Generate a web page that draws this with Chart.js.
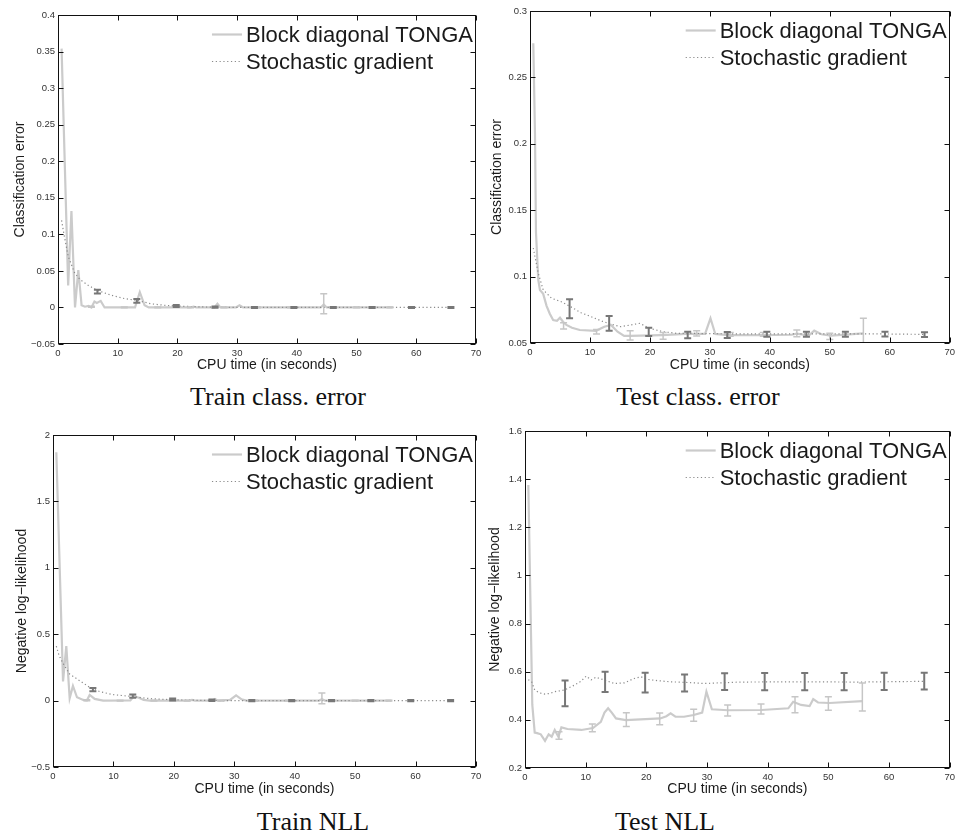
<!DOCTYPE html>
<html>
<head>
<meta charset="utf-8">
<script src="https://cdn.jsdelivr.net/npm/chart.js@4.4.0/dist/chart.umd.min.js"></script>
<style>
  body { margin: 0; background: #fff; }
  #page { position: relative; width: 959px; height: 833px; overflow: hidden; }
  canvas { position: absolute; }
  .cap { position: absolute; font-family: 'Liberation Serif', 'Times New Roman', serif; font-size: 26px; line-height: 1; color: #111; white-space: nowrap; transform: translate(-50%, -50%); }
</style>
</head>
<body>
<div id="page">
  <canvas id="trainErr" width="480" height="373" style="left:8px;top:5px"></canvas>
  <canvas id="testErr" width="474" height="377" style="left:485px;top:1px"></canvas>
  <canvas id="trainNll" width="478" height="377" style="left:10px;top:425px"></canvas>
  <canvas id="testNll" width="476" height="381" style="left:483px;top:421px"></canvas>
  <div class="cap" style="left:278px;top:397px">Train class. error</div>
  <div class="cap" style="left:698px;top:397px">Test class. error</div>
  <div class="cap" style="left:313px;top:822px">Train NLL</div>
  <div class="cap" style="left:665px;top:822px">Test NLL</div>
</div>
<script>
const seriesNames = ['Block diagonal TONGA', 'Stochastic gradient'];
const xTicks = [0, 10, 20, 30, 40, 50, 60, 70];
const tongaBarT = [5.6, 11.1, 16.7, 22.2, 27.8, 33.4, 38.9, 44.5, 50.0, 55.6];
const sgdBarT = [6.6, 13.2, 19.8, 26.3, 32.9, 39.5, 46.1, 52.6, 59.2, 65.8];

// Train class. error
const trainErrTicks = [-0.05, 0, 0.05, 0.1, 0.15, 0.2, 0.25, 0.3, 0.35, 0.4];
const trainErrTongaT = [0.6, 1.7, 2.25, 2.85, 3.4, 3.95, 4.5, 5.1, 5.6, 6.1, 6.5, 7.15, 7.8, 12.9, 13.7, 14.5, 15.2, 22.2, 22.7, 23.2, 26.2, 26.7, 27.2, 29.8, 30.4, 31.0, 44.0, 44.5, 45.0, 56.0];
const trainErrTongaY = [0.354, 0.03, 0.132, 0, 0.051, 0.003, 0.001, 0.002, 0, 0.008, 0.006, 0.009, 0, 0, 0.021, 0.003, 0, 0, 0.001, 0, 0, 0.005, 0, 0, 0.003, 0, 0, 0.004, 0, 0];
const trainErrSgdT = [0.6, 1.0, 1.7, 2.8, 3.7, 5.1, 6.7, 9.0, 11.2, 13.3, 15.6, 17.8, 19.8, 22.9, 26.3, 30.0, 65.8];
const trainErrSgdY = [0.119, 0.1, 0.07, 0.047, 0.038, 0.03, 0.023, 0.0165, 0.012, 0.0095, 0.005, 0.003, 0.002, 0.001, 0.0003, 0, 0];
const trainErrTongaBarY = [0.001, 0, 0, 0, 0, 0, 0, 0.005, 0, 0];
const trainErrTongaBarE = [0.0006, 0.0005, 0.0005, 0.0005, 0.0005, 0.0005, 0.0005, 0.0137, 0.0005, 0.0005];
const trainErrSgdBarY = [0.0217, 0.0089, 0.002, 0.0004, 0, 0, 0, 0, 0, 0];
const trainErrSgdBarE = [0.0025, 0.0025, 0.0013, 0.0009, 0.0006, 0.0006, 0.0006, 0.0006, 0.0006, 0.0006];

// Test class. error
const testErrTicks = [0.05, 0.1, 0.15, 0.2, 0.25, 0.3];
const testErrTongaT = [0.55, 0.83, 1.0, 1.38, 1.66, 2.2, 2.76, 3.3, 3.86, 4.5, 5.0, 5.5, 6.07, 7.0, 8.3, 11.0, 12.4, 13.5, 14.6, 15.7, 16.7, 22.0, 26.0, 29.2, 30.1, 30.9, 33.1, 38.0, 43.6, 44.5, 46.5, 47.4, 48.6, 50.2, 55.6];
const testErrTongaY = [0.2757, 0.208, 0.133, 0.0976, 0.0899, 0.087, 0.078, 0.072, 0.0673, 0.0667, 0.069, 0.066, 0.0636, 0.0615, 0.0598, 0.0592, 0.0623, 0.0636, 0.0585, 0.0553, 0.0553, 0.056, 0.0568, 0.0568, 0.0686, 0.0568, 0.056, 0.056, 0.0562, 0.0571, 0.0556, 0.0593, 0.0566, 0.0555, 0.0573];
const testErrSgdT = [0.55, 1.38, 2.2, 3.6, 5.2, 6.9, 8.5, 10.2, 11.8, 13.4, 15.1, 16.7, 18.3, 20.0, 22.2, 24.4, 26.6, 30.0, 40.0, 50.0, 59.2, 65.8];
const testErrSgdY = [0.1215, 0.1025, 0.09, 0.0837, 0.0811, 0.077, 0.0728, 0.0698, 0.0668, 0.0643, 0.0623, 0.0635, 0.0648, 0.061, 0.0585, 0.0573, 0.0573, 0.057, 0.0568, 0.0568, 0.0568, 0.0565];
const testErrTongaBarY = [0.0629, 0.0585, 0.0558, 0.0554, 0.0573, 0.0565, 0.0565, 0.0572, 0.055, 0.0592];
const testErrTongaBarE = [0.0024, 0.0017, 0.0035, 0.0025, 0.002, 0.0015, 0.0015, 0.0025, 0.0023, 0.0094];
const testErrSgdBarY = [0.0758, 0.0648, 0.0584, 0.056, 0.056, 0.0566, 0.0566, 0.0566, 0.0567, 0.0563];
const testErrSgdBarE = [0.0072, 0.0055, 0.0031, 0.0025, 0.0022, 0.0019, 0.0019, 0.0019, 0.0018, 0.0018];

// Train NLL
const trainNllTicks = [-0.5, 0, 0.5, 1, 1.5, 2];
const trainNllTongaT = [0.55, 1.66, 2.2, 2.76, 3.3, 3.97, 5.0, 5.6, 6.07, 6.9, 8.3, 12.8, 13.4, 14.3, 15.0, 16.0, 22.5, 23.0, 23.5, 26.3, 26.8, 27.3, 29.3, 30.3, 31.2, 32.0, 44.0, 44.5, 45.0, 56.0];
const trainNllTongaY = [1.87, 0.145, 0.41, 0.018, 0.11, 0.025, 0.005, 0, 0.043, 0.013, 0, 0.002, 0.035, 0.02, 0.005, 0, 0, 0.005, 0, 0, 0.012, 0, 0.005, 0.04, 0.01, 0, 0, 0.01, 0, 0];
const trainNllSgdT = [0.55, 1.0, 1.66, 2.76, 4.4, 6.07, 7.7, 9.9, 13.25, 16.0, 19.9, 24.3, 28.0, 65.8];
const trainNllSgdY = [0.41, 0.34, 0.28, 0.2, 0.15, 0.1, 0.068, 0.045, 0.03, 0.015, 0.006, 0.002, 0, 0];
const trainNllTongaBarY = [0.003, 0, 0, 0, 0, 0, 0, 0.017, 0, 0];
const trainNllTongaBarE = [0.004, 0.003, 0.003, 0.003, 0.003, 0.003, 0.003, 0.041, 0.003, 0.003];
const trainNllSgdBarY = [0.083, 0.033, 0.008, 0.003, 0, 0, 0, 0, 0, 0];
const trainNllSgdBarE = [0.012, 0.012, 0.007, 0.006, 0.005, 0.005, 0.005, 0.005, 0.005, 0.005];

// Test NLL
const testNllTicks = [0.2, 0.4, 0.6, 0.8, 1, 1.2, 1.4, 1.6];
const testNllTongaT = [0.55, 1.2, 1.6, 2.0, 2.6, 3.3, 3.9, 4.4, 4.9, 5.5, 6.0, 7.0, 9.3, 11.2, 12.5, 13.1, 13.7, 14.3, 15.0, 16.6, 22.3, 23.3, 24.0, 24.8, 26.2, 27.8, 29.2, 29.9, 30.8, 33.4, 39.0, 43.4, 44.2, 45.5, 46.9, 47.5, 48.3, 50.2, 55.6];
const testNllTongaY = [1.376, 0.463, 0.347, 0.345, 0.34, 0.313, 0.34, 0.33, 0.358, 0.33, 0.369, 0.362, 0.358, 0.366, 0.392, 0.43, 0.448, 0.43, 0.406, 0.399, 0.406, 0.415, 0.427, 0.413, 0.413, 0.42, 0.43, 0.517, 0.444, 0.44, 0.441, 0.448, 0.475, 0.462, 0.457, 0.486, 0.472, 0.47, 0.478];
const testNllSgdT = [0.55, 1.1, 1.6, 2.4, 3.3, 4.1, 4.9, 6.5, 8.2, 9.2, 10.1, 10.9, 11.7, 12.5, 13.4, 14.7, 16.4, 18.0, 19.1, 20.2, 21.8, 24.0, 26.2, 29.5, 35.5, 45.0, 55.0, 65.8];
const testNllSgdY = [0.567, 0.558, 0.524, 0.512, 0.507, 0.51, 0.517, 0.524, 0.545, 0.56, 0.582, 0.566, 0.577, 0.57, 0.563, 0.551, 0.554, 0.572, 0.579, 0.568, 0.563, 0.558, 0.556, 0.551, 0.557, 0.558, 0.557, 0.56];
const testNllTongaBarY = [0.335, 0.367, 0.401, 0.404, 0.419, 0.439, 0.445, 0.463, 0.468, 0.495];
const testNllTongaBarE = [0.016, 0.016, 0.029, 0.024, 0.025, 0.023, 0.021, 0.033, 0.028, 0.058];
const testNllSgdBarY = [0.51, 0.558, 0.555, 0.553, 0.559, 0.559, 0.559, 0.559, 0.56, 0.561];
const testNllSgdBarE = [0.053, 0.042, 0.041, 0.035, 0.035, 0.036, 0.036, 0.036, 0.036, 0.035];

const fontSans = "'Liberation Sans', Arial, Helvetica, sans-serif";
const tongaColor = '#cbcbcb';
const sgdColor = '#8a8a8a';
const tongaBarColor = '#c6c6c6';
const sgdBarColor = '#777777';

function pts(t, y) { return t.map((v, i) => ({ x: v, y: y[i] })); }

function fmt(v) {
  const s = String(Math.round(Math.abs(v) * 1000) / 1000);
  return v < 0 ? '\u2212' + s : s;
}

// error bars drawn through the chart's own scales
function errorBars(sets) {
  return {
    id: 'errorBars',
    afterDatasetsDraw(chart) {
      const { ctx, chartArea: a, scales: { x, y } } = chart;
      ctx.save();
      ctx.beginPath();
      ctx.rect(a.left, a.top, a.width, a.height);
      ctx.clip();
      sets.forEach(s => {
        ctx.strokeStyle = s.color;
        ctx.lineWidth = s.width;
        s.t.forEach((tv, i) => {
          const px = x.getPixelForValue(tv);
          const top = y.getPixelForValue(s.y[i] + s.e[i]);
          const bot = y.getPixelForValue(s.y[i] - s.e[i]);
          ctx.beginPath();
          ctx.moveTo(px, top); ctx.lineTo(px, bot);
          ctx.moveTo(px - 3.5, top); ctx.lineTo(px + 3.5, top);
          ctx.moveTo(px - 3.5, bot); ctx.lineTo(px + 3.5, bot);
          ctx.stroke();
        });
      });
      ctx.restore();
    }
  };
}

// matlab-ish box: frame, inward ticks on all sides, legend inside top right
const boxPlugin = {
  id: 'matlabBox',
  afterDraw(chart) {
    const { ctx, chartArea: a, scales: { x, y } } = chart;
    const L = Math.round(a.left) + 0.5, R = Math.round(a.right) - 0.5;
    const T = Math.round(a.top) + 0.5, B = Math.round(a.bottom) - 0.5;
    ctx.save();
    ctx.strokeStyle = '#111';
    ctx.lineWidth = 1;
    ctx.strokeRect(L, T, R - L, B - T);
    ctx.beginPath();
    x.ticks.forEach(t => {
      const px = Math.round(x.getPixelForValue(t.value)) + 0.5;
      ctx.moveTo(px, B); ctx.lineTo(px, B - 5);
      ctx.moveTo(px, T); ctx.lineTo(px, T + 5);
    });
    y.ticks.forEach(t => {
      const py = Math.round(y.getPixelForValue(t.value)) + 0.5;
      ctx.moveTo(L, py); ctx.lineTo(L + 5, py);
      ctx.moveTo(R, py); ctx.lineTo(R - 5, py);
    });
    ctx.stroke();

    ctx.font = '22px ' + fontSans;
    ctx.textBaseline = 'middle';
    const ds = chart.data.datasets;
    const w = Math.max(...ds.map(d => ctx.measureText(d.label).width));
    const tx = a.right - 3 - w;
    ds.forEach((d, i) => {
      const ly = a.top + 19.5 + i * 27;
      ctx.strokeStyle = d.borderColor;
      ctx.lineWidth = d.borderWidth;
      ctx.setLineDash(d.borderDash || []);
      ctx.beginPath(); ctx.moveTo(tx - 34, ly); ctx.lineTo(tx - 4, ly); ctx.stroke();
      ctx.setLineDash([]);
      ctx.fillStyle = '#1a1a1a';
      ctx.fillText(d.label, tx, ly + 1);
    });
    ctx.restore();
  }
};

function makePanel(id, p) {
  new Chart(document.getElementById(id), {
    type: 'line',
    data: {
      datasets: [
        { label: seriesNames[0], data: pts(p.tongaT, p.tongaY), borderColor: tongaColor, borderWidth: 2.2,
          pointRadius: 0, tension: 0, order: 2 },
        { label: seriesNames[1], data: pts(p.sgdT, p.sgdY), borderColor: sgdColor, borderWidth: 1.2,
          borderDash: [1.2, 2.6], pointRadius: 0, tension: 0, order: 1 }
      ]
    },
    options: {
      responsive: false, animation: false, devicePixelRatio: 1,
      layout: { padding: { left: 0, top: 10, right: p.padRight, bottom: 0 } },
      plugins: { legend: { display: false }, tooltip: { enabled: false } },
      scales: {
        x: {
          type: 'linear', min: 0, max: 70,
          afterBuildTicks: s => { s.ticks = xTicks.map(v => ({ value: v })); },
          afterFit: s => { s.height = p.hx; },
          grid: { display: false, drawTicks: false }, border: { display: false },
          ticks: { font: { family: fontSans, size: 9.5 }, color: '#333', padding: 4, maxRotation: 0, autoSkip: false },
          title: { display: true, text: 'CPU time (in seconds)', color: '#1a1a1a', font: { family: fontSans, size: 14 } }
        },
        y: {
          type: 'linear', min: p.ticks[0], max: p.ticks[p.ticks.length - 1],
          afterBuildTicks: s => { s.ticks = p.ticks.map(v => ({ value: v })); },
          afterFit: s => { s.width = p.wy; },
          grid: { display: false, drawTicks: false }, border: { display: false },
          ticks: { font: { family: fontSans, size: 9.5 }, color: '#333', padding: 3, callback: v => fmt(v) },
          title: { display: true, text: p.yTitle, color: '#1a1a1a', font: { family: fontSans, size: 14 } }
        }
      }
    },
    plugins: [errorBars([
      { t: tongaBarT, y: p.tongaBarY, e: p.tongaBarE, color: tongaBarColor, width: 1.5 },
      { t: sgdBarT, y: p.sgdBarY, e: p.sgdBarE, color: sgdBarColor, width: 2 }
    ]), boxPlugin]
  });
}

makePanel('trainErr', {
  ticks: trainErrTicks, yTitle: 'Classification error', wy: 50, hx: 34, padRight: 12,
  tongaT: trainErrTongaT, tongaY: trainErrTongaY, sgdT: trainErrSgdT, sgdY: trainErrSgdY,
  tongaBarY: trainErrTongaBarY, tongaBarE: trainErrTongaBarE, sgdBarY: trainErrSgdBarY, sgdBarE: trainErrSgdBarE
});
makePanel('testErr', {
  ticks: testErrTicks, yTitle: 'Classification error', wy: 45, hx: 35, padRight: 6,
  tongaT: testErrTongaT, tongaY: testErrTongaY, sgdT: testErrSgdT, sgdY: testErrSgdY,
  tongaBarY: testErrTongaBarY, tongaBarE: testErrTongaBarE, sgdBarY: testErrSgdBarY, sgdBarE: testErrSgdBarE
});
makePanel('trainNll', {
  ticks: trainNllTicks, yTitle: 'Negative log\u2212likelihood', wy: 43, hx: 35, padRight: 12,
  tongaT: trainNllTongaT, tongaY: trainNllTongaY, sgdT: trainNllSgdT, sgdY: trainNllSgdY,
  tongaBarY: trainNllTongaBarY, tongaBarE: trainNllTongaBarE, sgdBarY: trainNllSgdBarY, sgdBarE: trainNllSgdBarE
});
makePanel('testNll', {
  ticks: testNllTicks, yTitle: 'Negative log\u2212likelihood', wy: 42, hx: 34, padRight: 6,
  tongaT: testNllTongaT, tongaY: testNllTongaY, sgdT: testNllSgdT, sgdY: testNllSgdY,
  tongaBarY: testNllTongaBarY, tongaBarE: testNllTongaBarE, sgdBarY: testNllSgdBarY, sgdBarE: testNllSgdBarE
});
</script>
</body>
</html>
